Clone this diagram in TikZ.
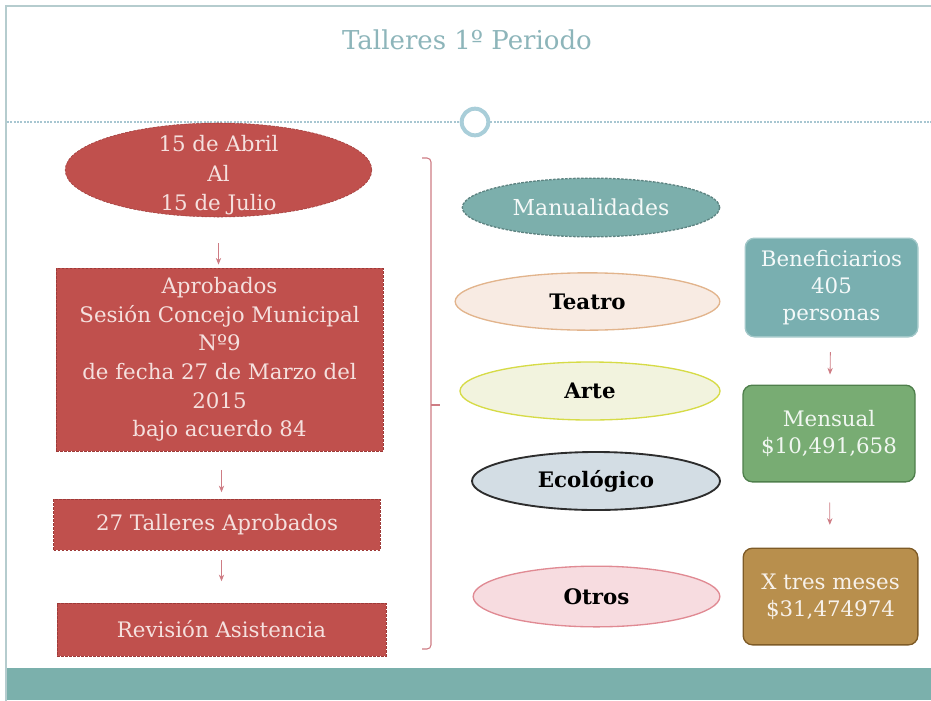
\documentclass[tikz,border=0pt]{standalone}
\usepackage{fontspec}
\setmainfont{DejaVu Serif}
\usetikzlibrary{shapes.geometric, arrows.meta, positioning}
\definecolor{tallred}{RGB}{192, 80, 77}
\definecolor{tallredline}{RGB}{158, 58, 56}
\definecolor{tallredtext}{RGB}{245, 224, 222}
\definecolor{tealband}{RGB}{123, 176, 172}
\definecolor{tealtitle}{RGB}{141, 181, 186}
\definecolor{dashblue}{RGB}{167, 198, 209}
\definecolor{ringblue}{RGB}{169, 206, 217}
\definecolor{framegray}{RGB}{181, 204, 206}
\definecolor{bracketpink}{RGB}{206, 124, 132}
\definecolor{manuteal}{RGB}{124, 175, 172}
\definecolor{benteal}{RGB}{121, 175, 176}
\definecolor{mensgreen}{RGB}{120, 172, 115}
\definecolor{mensline}{RGB}{79, 127, 76}
\definecolor{trestan}{RGB}{184, 143, 77}
\definecolor{tresline}{RGB}{126, 91, 39}
\tikzset{
  redbox/.style={rectangle, fill=tallred, draw=tallredline, dash pattern=on 2pt off 1pt,
    text=tallredtext, align=center, inner sep=1pt, font=\fontsize{16}{21.5}\selectfont},
  oval/.style={ellipse, line width=1pt, font=\bfseries\fontsize{16}{18}\selectfont},
  sumbox/.style={rectangle, rounded corners=7pt, line width=1pt, align=center,
    font=\fontsize{16}{20.5}\selectfont},
  flowarr/.style={draw=bracketpink, line width=0.6pt, -{Stealth[length=5pt, width=4pt]}}
}

\begin{document}
\begin{tikzpicture}[x=0.75pt, y=-0.75pt]
  \useasboundingbox (0,0) rectangle (931,700);
  % frame, band and title line
  \draw[framegray, line width=1pt] (6,710) -- (6,6) -- (940,6);
  \fill[tealband] (7,668) rectangle (931,700);
  \node[text=tealtitle, font=\fontsize{19.5}{22}\selectfont] (titulo) at (467,40) {Talleres 1º Periodo};
  \node[circle, draw=ringblue, fill=white, line width=3pt, minimum size=20pt] (anillo) at (475,122) {};
  \draw[dashblue, line width=0.8pt, dash pattern=on 1.5pt off 1pt] (7,122) -- (anillo.west);
  \draw[dashblue, line width=0.8pt, dash pattern=on 1.5pt off 1pt] (anillo.east) -- (931,122);

  % left column
  \node[ellipse, fill=tallred, draw=tallredline, dash pattern=on 2pt off 1pt,
    minimum width=230pt, minimum height=70.5pt,
    label={[text=tallredtext, align=center, yshift=-4pt, font=\fontsize{16}{22}\selectfont]center:{15 de Abril\\Al\\15 de Julio}}] (fecha) at (218.5,170) {};
  \node[redbox, minimum width=245pt, minimum height=137pt] (sesion) at (219.5,359.5)
    {Aprobados\\Sesión Concejo Municipal\\Nº9\\de fecha 27 de Marzo del\\2015\\bajo acuerdo 84};
  \node[redbox, minimum width=245pt, minimum height=38pt] (talleres) at (217,524.5) {27 Talleres Aprobados};
  \node[redbox, minimum width=246.5pt, minimum height=40pt] (revision) at (221.5,629.5) {Revisión Asistencia};

  \draw[flowarr, shorten <=19.5pt, shorten >=2.5pt] (fecha.south) -- (fecha.south |- sesion.north);
  \draw[flowarr, shorten <=14pt, shorten >=5pt] (revision.north |- sesion.south) -- (revision.north |- talleres.north);
  \draw[flowarr, shorten <=7.5pt, shorten >=16pt] (revision.north |- talleres.south) -- (revision.north);

  % bracket
  \draw[bracketpink, line width=0.8pt, rounded corners=3pt] (422,158) -- (431,158) -- (431,649) -- (422,649);
  \draw[bracketpink, line width=0.8pt] (431,405) -- (440,405);

  % workshops
  \node[oval, fill=manuteal, draw=manuteal!75!black, dash pattern=on 2pt off 1pt, text=white!92!manuteal,
    font=\fontsize{16.5}{18}\selectfont, minimum width=193pt, minimum height=44pt] (manual) at (591,207.5) {Manualidades};
  \node[oval, fill={rgb,255:red,248;green,235;blue,227}, draw={rgb,255:red,226;green,180;blue,140},
    minimum width=198.5pt, minimum height=43pt] (teatro) at (587.5,301.5) {Teatro};
  \node[oval, fill={rgb,255:red,242;green,243;blue,222}, draw={rgb,255:red,214;green,219;blue,70},
    minimum width=195pt, minimum height=43.5pt] (arte) at (590,391) {Arte};
  \node[oval, fill={rgb,255:red,211;green,221;blue,228}, draw={rgb,255:red,45;green,45;blue,45}, line width=1.4pt,
    minimum width=186pt, minimum height=43.5pt] (eco) at (596,481) {Ecológico};
  \node[oval, fill={rgb,255:red,247;green,220;blue,224}, draw={rgb,255:red,224;green,138;blue,147},
    minimum width=185pt, minimum height=45.5pt] (otros) at (596.5,596.5) {Otros};

  % totals
  \node[sumbox, fill=benteal, draw=benteal!70!white, text=white!92!benteal,
    minimum width=129.5pt, minimum height=74pt] (benef) at (831.5,287.5) {Beneficiarios\\405\\personas};
  \node[sumbox, fill=mensgreen, draw=mensline, text=white!90!mensgreen,
    minimum width=129pt, minimum height=72.5pt] (mensual) at (829,433.5) {Mensual\\\$10,491,658};
  \node[sumbox, fill=trestan, draw=tresline, text=white!88!trestan,
    minimum width=131pt, minimum height=72.5pt] (tres) at (830.5,596.5) {X tres meses\\\$31,474974};

  \draw[flowarr, shorten <=11pt, shorten >=7.5pt] (benef) -- (mensual);
  \draw[flowarr, shorten <=15pt, shorten >=17pt] (mensual) -- (tres);
\end{tikzpicture}
\end{document}
